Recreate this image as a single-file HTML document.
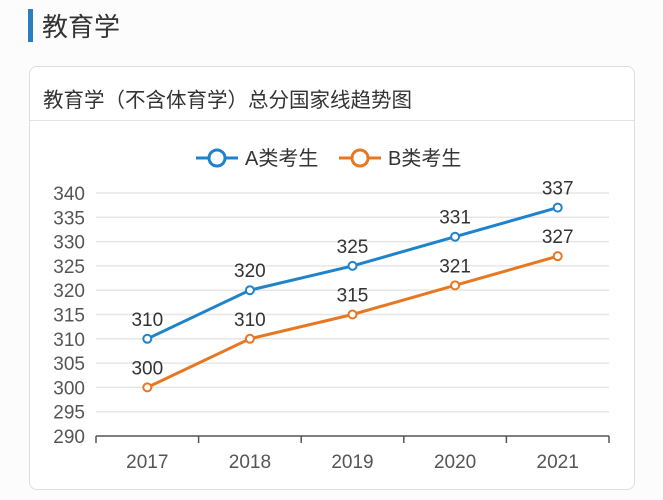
<!DOCTYPE html>
<html><head><meta charset="utf-8"><style>
body{margin:0;width:663px;height:500px;background:#fcfcfc;font-family:"Liberation Sans","Noto Sans CJK SC",sans-serif;position:relative;overflow:hidden}
#bar{position:absolute;left:28px;top:9px;width:5px;height:33px;background:#2a7fc0}
#h{position:absolute;left:42px;top:7px;font-size:26px;color:#333}
#card{position:absolute;left:29px;top:66px;width:604px;height:422px;border:1.5px solid #ddd;border-radius:8px;background:#fff}
#title{position:absolute;left:13px;top:16px;font-size:20.5px;color:#333}
#div{position:absolute;left:0;right:0;top:53px;border-top:1.5px solid #e3e3e3}
svg{position:absolute;left:0;top:0}
</style></head><body>
<div id="bar"></div>
<div id="h">教育学</div>
<div id="card">
<div id="title">教育学（不含体育学）总分国家线趋势图</div>
<div id="div"></div>
</div>
<svg id="c" width="663" height="500" font-family="Liberation Sans, Noto Sans CJK SC, sans-serif"></svg>
<script>
const categories=["2017","2018","2019","2020","2021"];
const seriesA=[310,320,325,331,337];
const seriesB=[300,310,315,321,327];
const yTicks=[290,295,300,305,310,315,320,325,330,335,340];
const seriesNames=["A类考生","B类考生"];
const colors=["#1f83cc","#e87722"];
const svg=document.getElementById('c');
const NS="http://www.w3.org/2000/svg";
const x0=96,x1=609,yBase=436,yTop=193;
const xs=i=>x0+(i+0.5)*(x1-x0)/categories.length;
const ys=v=>yBase-(v-290)*(yBase-yTop)/50;
function mk(t,a,txt){const e=document.createElementNS(NS,t);for(const k in a)e.setAttribute(k,a[k]);if(txt!=null)e.textContent=txt;svg.appendChild(e);return e;}
yTicks.forEach(v=>{
 if(v>290){const g=mk('line',{x1:x0,x2:x1,y1:ys(v),y2:ys(v),stroke:'#e6e6e6','stroke-width':1.5});
 
 }
 const t=mk('text',{x:85,y:ys(v)+7,'text-anchor':'end','font-size':19,fill:'#555'},v);
 
 
});
const ax=mk('line',{x1:x0,x2:x1,y1:yBase,y2:yBase,stroke:'#555','stroke-width':1.5});


for(let i=0;i<=categories.length;i++){const xx=x0+i*(x1-x0)/categories.length;mk('line',{x1:xx,x2:xx,y1:yBase,y2:yBase+7,stroke:'#555','stroke-width':1.5});}
categories.forEach((c,i)=>{const t=mk('text',{x:xs(i),y:468,'text-anchor':'middle','font-size':19,fill:'#555'},c);
 
 });
[seriesA,seriesB].forEach((s,k)=>{
 const p=mk('polyline',{points:s.map((v,i)=>xs(i)+','+ys(v)).join(' '),fill:'none',stroke:colors[k],'stroke-width':3});
 
 
 s.forEach((v,i)=>{
  const c=mk('circle',{cx:xs(i),cy:ys(v),r:4,fill:'#fff',stroke:colors[k],'stroke-width':2});
  
  
  const t=mk('text',{x:xs(i),y:ys(v)-13,'text-anchor':'middle','font-size':19,fill:'#333'},v);
  
  
 });
});
const lx=[196,339];
seriesNames.forEach((n,k)=>{
 const g=mk('g',{});
 
 
 const l=document.createElementNS(NS,'line');l.setAttribute('x1',lx[k]);l.setAttribute('x2',lx[k]+42);l.setAttribute('y1',158);l.setAttribute('y2',158);l.setAttribute('stroke',colors[k]);l.setAttribute('stroke-width',3);g.appendChild(l);
 const c=document.createElementNS(NS,'circle');c.setAttribute('cx',lx[k]+21);c.setAttribute('cy',158);c.setAttribute('r',8);c.setAttribute('fill','#fff');c.setAttribute('stroke',colors[k]);c.setAttribute('stroke-width',3);g.appendChild(c);
 const t=document.createElementNS(NS,'text');t.setAttribute('x',lx[k]+49);t.setAttribute('y',165);t.setAttribute('font-size',20);t.setAttribute('fill','#333');t.textContent=n;g.appendChild(t);
});
</script>
</body></html>
